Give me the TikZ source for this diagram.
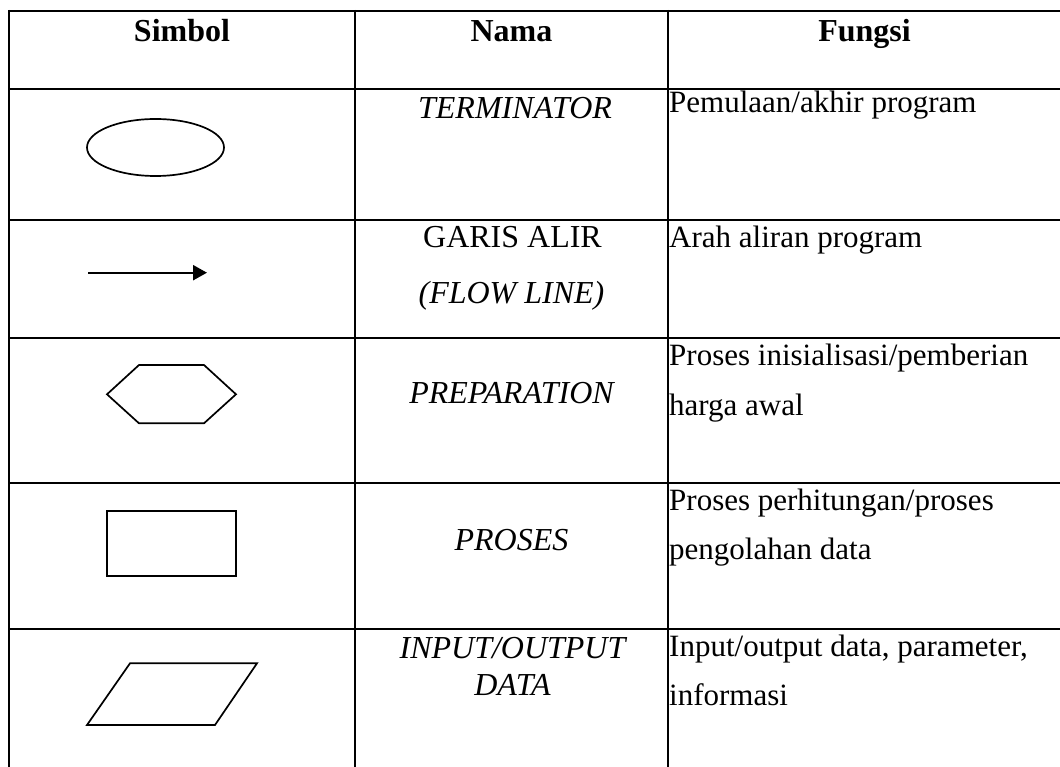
\documentclass[tikz,border=0pt]{standalone}
\usepackage{fontspec}
\setmainfont{Liberation Serif}
\usetikzlibrary{arrows.meta,shapes.geometric}
\begin{document}
\begin{tikzpicture}[x=1pt,y=-1pt,
  gridline/.style={line width=2.3pt, black},
  sym/.style={line width=1.7pt, black},
  hdr/.style={anchor=base, inner sep=0pt, font=\fontsize{32}{38}\selectfont\bfseries},
  nama/.style={anchor=base, inner sep=0pt, font=\fontsize{32}{38}\selectfont\itshape},
  namaup/.style={anchor=base, inner sep=0pt, font=\fontsize{32}{38}\selectfont},
  fungsi/.style={anchor=base west, inner sep=0pt, font=\fontsize{31}{37}\selectfont}]
\useasboundingbox (0,0) rectangle (1060,767);
\fill[white] (0,0) rectangle (1060,767);
\begin{scope}
  \clip (0,0) rectangle (1060,767);
  % vertical lines
  \foreach \x in {9,355,668} \draw[gridline] (\x,10) -- (\x,780);
  % horizontal lines
  \foreach \y in {11,89,220,338,483,629} \draw[gridline] (8,\y) -- (1080,\y);
\end{scope}

% header
\node[hdr] (hsimbol) at (182,42) {Simbol};
\node[hdr] (hnama) at (511.5,42) {Nama};
\node[hdr] (hfungsi) at (864.5,42) {Fungsi};

% row 1
\node[ellipse, draw, sym, minimum width=137pt, minimum height=57pt, inner sep=0pt] (term) at (155.5,147.5) {};
\node[nama] (n1) at (515,119) {TERMINATOR};
\node[fungsi] (f1) at (669,113) {Pemulaan/akhir program};

% row 2
\coordinate (a1) at (88,272.7);
\coordinate (a2) at (207,272.7);
\draw[line width=2.2pt, -{Triangle[length=14pt,width=15pt]}] (a1) -- (a2);
\node[namaup] (n2a) at (512.5,248) {GARIS ALIR};
\node[nama] (n2b) at (511.5,304) {(FLOW LINE)};
\node[fungsi] (f2) at (669,247.5) {Arah aliran program};

% row 3
\draw[sym] (107,394.3) -- (139,365) -- (204,365) -- (236,394.3) -- (204,423.3) -- (139,423.3) -- cycle;
\node[nama] (n3) at (511.5,403.5) {PREPARATION};
\node[fungsi] (f3a) at (669,365) {Proses inisialisasi/pemberian};
\node[fungsi] (f3b) at (669,415) {harga awal};

% row 4
\draw[sym] (107,511.3) rectangle (236,575.7);
\node[nama] (n4) at (511.5,550) {PROSES};
\node[fungsi] (f4a) at (669,510) {Proses perhitungan/proses};
\node[fungsi] (f4b) at (669,559.3) {pengolahan data};

% row 5
\draw[sym] (130,663.3) -- (257,663.3) -- (215,725) -- (87,725) -- cycle;
\node[nama] (n5a) at (512.5,658) {INPUT/OUTPUT};
\node[nama] (n5b) at (512.5,695) {DATA};
\node[fungsi] (f5a) at (669,656) {Input/output data, parameter,};
\node[fungsi] (f5b) at (669,705) {informasi};
\end{tikzpicture}
\end{document}
